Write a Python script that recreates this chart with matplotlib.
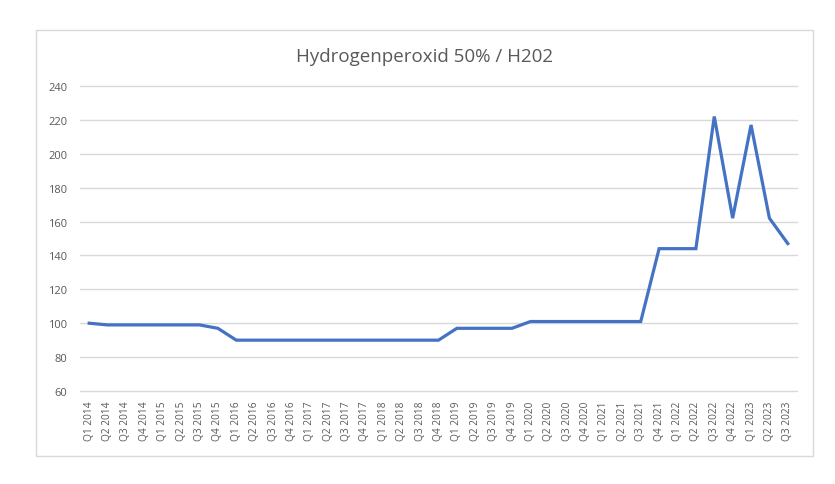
import matplotlib.pyplot as plt
from matplotlib.patches import Rectangle

quarters = ['Q1', 'Q2', 'Q3', 'Q4']
years = list(range(2014, 2024))
labels = [f'{q} {y}' for y in years for q in quarters][:39]

values = [100, 99, 99, 99, 99, 99, 99, 97,
          90, 90, 90, 90, 90, 90, 90, 90,
          90, 90, 90, 90, 97, 97, 97, 97,
          101, 101, 101, 101, 101, 101, 101, 144,
          144, 144, 222, 162, 217, 162, 147]

yticks = list(range(60, 241, 20))

line_color = '#4472C4'
grid_color = '#d9d9d9'
text_color = '#595959'

plt.rcParams['font.family'] = ['Open Sans', 'DejaVu Sans']

fig = plt.figure(figsize=(8.35, 4.85), dpi=100)
ax = fig.add_axes([80 / 835, 93 / 485, 717 / 835, 305 / 485])

# outer chart frame
fig.patches.append(Rectangle((36 / 835, 28 / 485), 777 / 835, 426 / 485,
                             transform=fig.transFigure, fill=False,
                             edgecolor=grid_color, linewidth=1))

x = list(range(len(values)))
ax.plot(x, values, color=line_color, linewidth=2.3, solid_joinstyle='miter', zorder=3)

# decorate plot
ax.set_xlim(-0.5, len(values) - 0.5)
ax.set_ylim(60, 240)
ax.set_yticks(yticks)
ax.set_xticks(x)
ax.set_xticklabels(labels, rotation=90, fontsize=7.3, color=text_color)
ax.tick_params(axis='y', labelsize=8, colors=text_color, length=0, pad=9)
ax.tick_params(axis='x', length=0, pad=7)
ax.grid(axis='y', color=grid_color, linewidth=1)
for gl in ax.yaxis.get_gridlines():
    gl.set_clip_on(False)
ax.set_axisbelow(True)
for s in ax.spines.values():
    s.set_visible(False)

fig.text(424 / 835, 1 - 57 / 485, 'Hydrogenperoxid 50% / H202',
         ha='center', va='center', fontsize=13.5, color=text_color)

fig.savefig('out.png', dpi=100)
